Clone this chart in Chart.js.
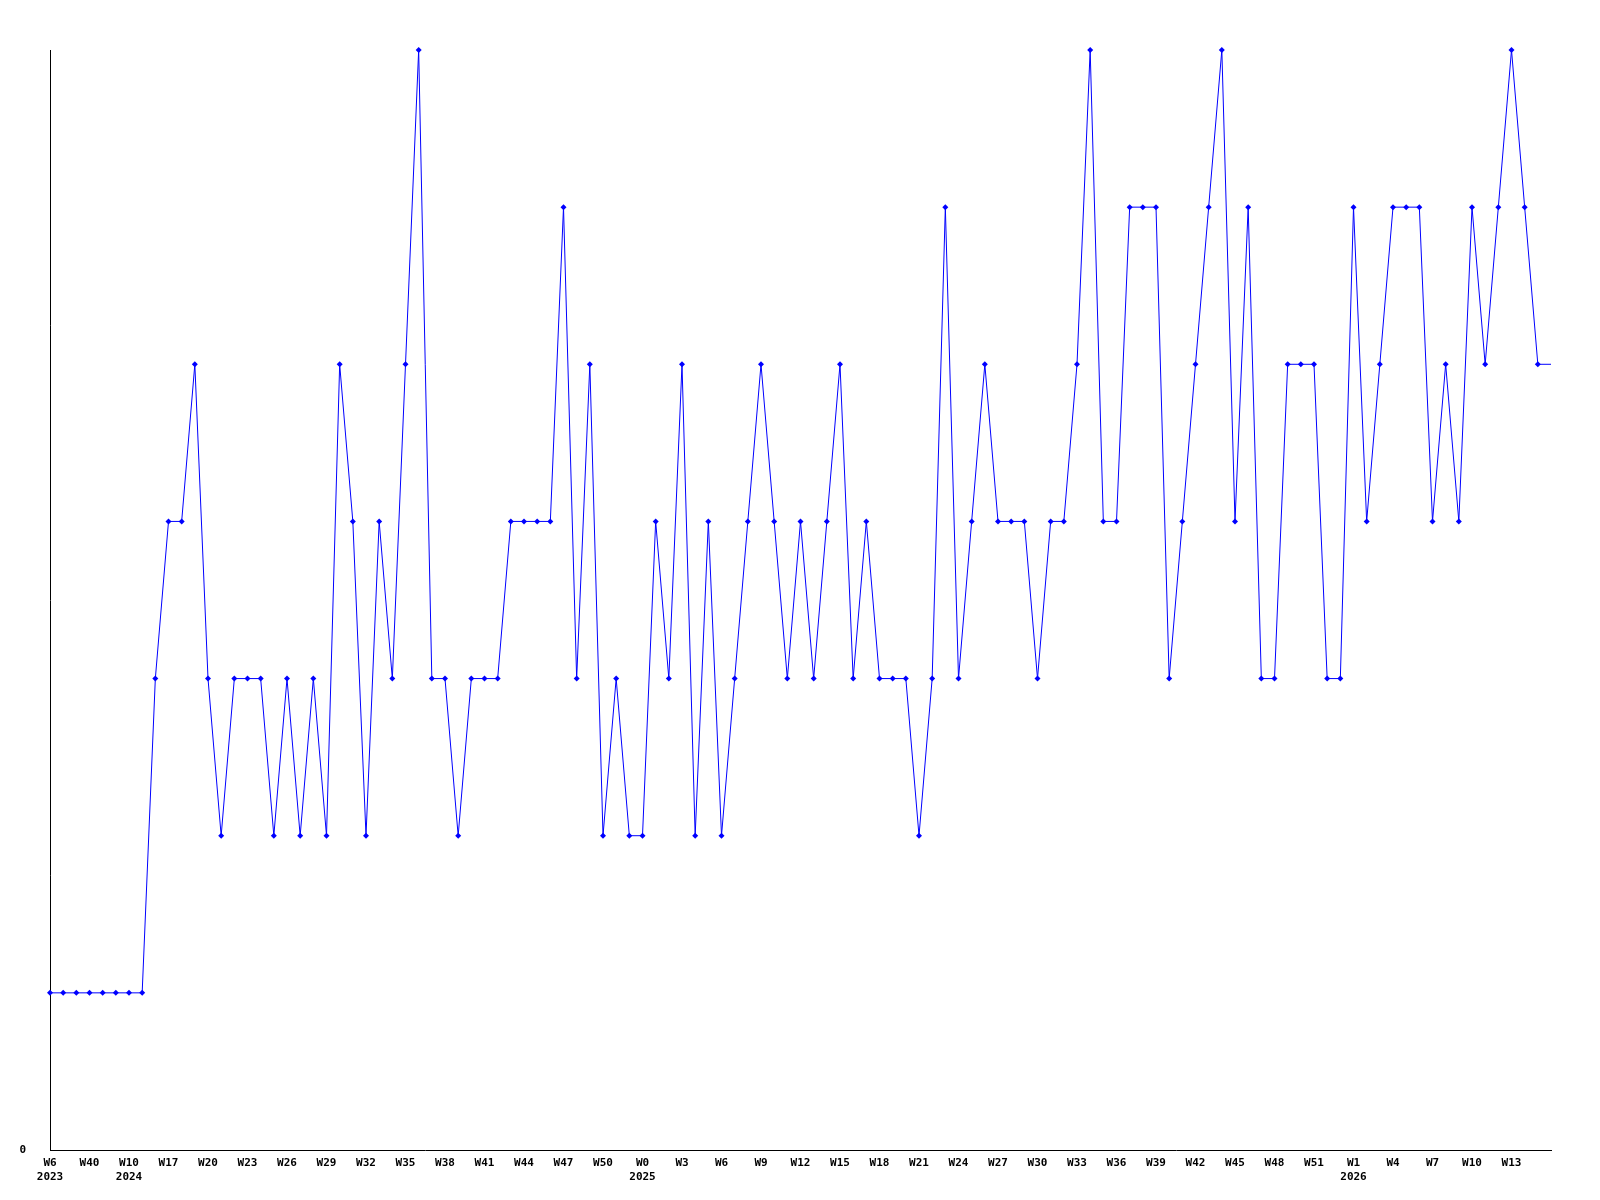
<!DOCTYPE html>
<html>
<head>
<meta charset="utf-8">
<script src="https://cdn.jsdelivr.net/npm/chart.js@4/dist/chart.umd.min.js"></script>
<style>
  html, body { margin: 0; padding: 0; background: #ffffff; }
  #wrap { width: 1600px; height: 1200px; }
</style>
</head>
<body>
<div id="wrap"><canvas id="c" width="1600" height="1200"></canvas></div>
<script>
// Week categories (every third one is shown as a tick label; unlabelled ones are estimates)
const weeks = [
  'W6','W20','W30','W40','W45','W50','W10','W12','W14',
  'W17','W18','W19','W20','W21','W22','W23','W24','W25','W26','W27','W28','W29','W30','W31','W32','W33','W34','W35','W36','W37','W38','W39','W40','W41','W42','W43','W44','W45','W46','W47','W48','W49','W50','W51','W52',
  'W0','W1','W2','W3','W4','W5','W6','W7','W8','W9','W10','W11','W12','W13','W14','W15','W16','W17','W18','W19','W20','W21','W22','W23','W24','W25','W26','W27','W28','W29','W30','W31','W32','W33','W34','W35','W36','W37','W38','W39','W40','W41','W42','W43','W44','W45','W46','W47','W48','W49','W50','W51','W52',
  'W0','W1','W2','W3','W4','W5','W6','W7','W8','W9','W10','W11','W12','W13','W14','W15','W16'
];
// Year shown under the tick where it first appears
const yearIndex = [0, 6, 45, 99];
const yearLabels = ['2023', '2024', '2025', '2026'];

// Weekly values (last one is the current, unfinished week)
const values = [
  1,1,1,1,1,1,1,1,3,4,4,5,3,2,3,3,3,2,3,2,
  3,2,5,4,2,4,3,5,7,3,3,2,3,3,3,4,4,4,4,6,
  3,5,2,3,2,2,4,3,5,2,4,2,3,4,5,4,3,4,3,4,
  5,3,4,3,3,3,2,3,6,3,4,5,4,4,4,3,4,4,5,7,
  4,4,6,6,6,3,4,5,6,7,4,6,3,3,5,5,5,3,3,6,
  4,5,6,6,6,4,5,4,6,5,6,7,6,5,5
];

const yTickLabels = ['0'];
const labelEvery = 3;

const font = { family: "'DejaVu Sans Mono', 'Liberation Mono', monospace", size: 11, weight: 'bold', lineHeight: '14px' };

new Chart(document.getElementById('c'), {
  type: 'line',
  data: {
    labels: weeks,
    datasets: [{
      data: values,
      borderColor: '#0000ff',
      backgroundColor: '#0000ff',
      borderWidth: 1,
      pointStyle: 'rectRot',
      pointRadius: (ctx) => ctx.dataIndex === values.length - 1 ? 0 : 3,
      pointBorderWidth: 0,
      pointHoverRadius: 3,
      tension: 0,
      clip: false
    }]
  },
  options: {
    responsive: false,
    animation: false,
    events: [],
    layout: { padding: { top: 50, right: 49, left: 0, bottom: 0 } },
    plugins: { legend: { display: false }, tooltip: { enabled: false } },
    scales: {
      x: {
        type: 'category',
        offset: false,
        grid: { display: false },
        border: { display: true, color: '#000000', width: 1 },
        afterFit: (s) => { s.height = 50; },
        ticks: {
          autoSkip: false,
          maxRotation: 0,
          minRotation: 0,
          padding: -2,
          color: '#000000',
          font: font,
          callback: function (val, idx) {
            if (idx % labelEvery !== 0 || idx >= values.length - 1) return null;
            const w = weeks[idx];
            const yi = yearIndex.indexOf(idx);
            return yi >= 0 ? [w, yearLabels[yi]] : w;
          }
        }
      },
      y: {
        min: 0,
        max: 7,
        grid: { display: false },
        border: { display: true, color: '#000000', width: 1 },
        afterFit: (s) => { s.width = 50; },
        ticks: {
          stepSize: 7,
          padding: 16,
          color: '#000000',
          font: font,
          callback: (v) => v === 0 ? yTickLabels[0] : ''
        }
      }
    }
  }
});
</script>
</body>
</html>
